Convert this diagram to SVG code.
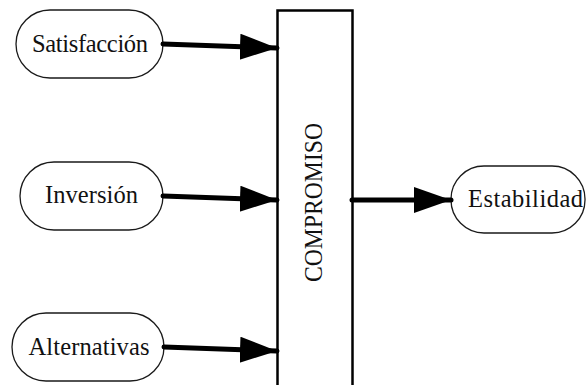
<svg xmlns="http://www.w3.org/2000/svg" width="586" height="385" viewBox="0 0 586 385">
  <style>
    .pill { fill: #ffffff; stroke: #1a1a1a; stroke-width: 1.3; }
    .label { font-family: "Liberation Serif", "DejaVu Serif", serif; font-size: 24.5px; fill: #111111; text-anchor: middle; }
    .edge { fill: none; stroke: #000000; stroke-width: 5; stroke-linecap: round; }
    .block { fill: #ffffff; stroke: #000000; stroke-width: 2.5; }
  </style>
  <defs>
    <marker id="arrow" markerUnits="userSpaceOnUse" markerWidth="38" markerHeight="28" refX="37" refY="13" orient="auto">
      <path d="M0,0 L37,13 L0,26 Z" fill="#000000"/>
    </marker>
  </defs>

  <rect width="586" height="385" fill="#ffffff"/>

  <!-- central block -->
  <g id="compromiso">
    <rect class="block" x="277.5" y="10.5" width="75" height="400"/>
    <text class="label" transform="translate(322,202.5) rotate(-90)" x="0" y="0" textLength="159" lengthAdjust="spacingAndGlyphs">COMPROMISO</text>
  </g>

  <!-- input factors -->
  <g id="satisfaccion">
    <rect class="pill" x="16" y="10" width="147" height="68" rx="34" ry="34"/>
    <text class="label" x="90" y="52" textLength="116">Satisfacción</text>
  </g>
  <g id="inversion">
    <rect class="pill" x="20" y="162" width="143" height="68" rx="34" ry="34"/>
    <text class="label" x="91.5" y="202.5" textLength="93">Inversión</text>
  </g>
  <g id="alternativas">
    <rect class="pill" x="12" y="313" width="152" height="68" rx="34" ry="34"/>
    <text class="label" x="89" y="355" textLength="121">Alternativas</text>
  </g>

  <!-- outcome -->
  <g id="estabilidad">
    <rect class="pill" x="451" y="166" width="134" height="67" rx="33" ry="33"/>
    <text class="label" x="525.5" y="207" textLength="115">Estabilidad</text>
  </g>

  <!-- connectors -->
  <g id="connectors">
    <line class="edge" x1="163" y1="44" x2="277" y2="48" marker-end="url(#arrow)"/>
    <line class="edge" x1="163" y1="196" x2="277" y2="200" marker-end="url(#arrow)"/>
    <line class="edge" x1="164" y1="347" x2="277" y2="351" marker-end="url(#arrow)"/>
    <line class="edge" x1="352" y1="200" x2="451" y2="200" marker-end="url(#arrow)"/>
  </g>
</svg>
